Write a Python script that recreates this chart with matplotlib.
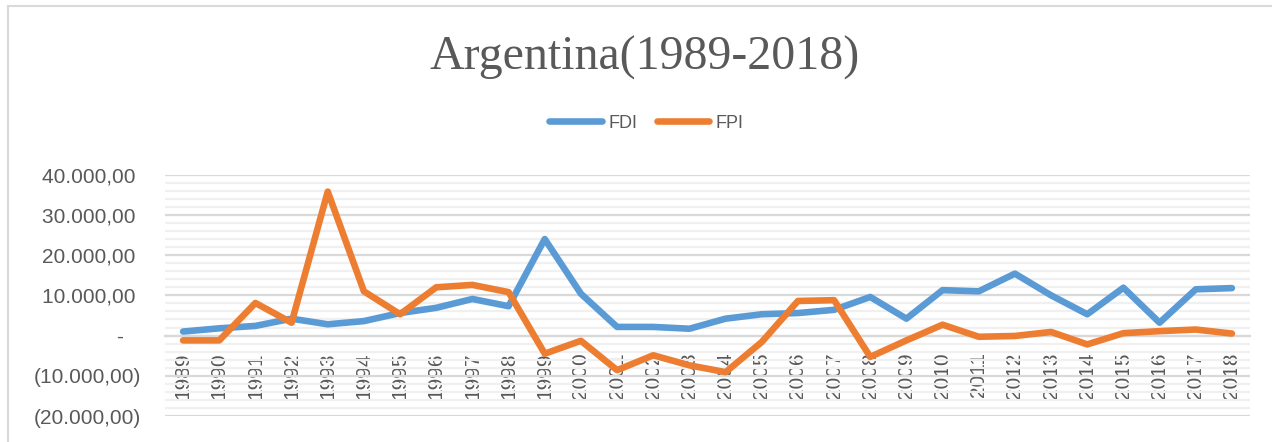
import matplotlib
matplotlib.use("Agg")
import matplotlib.pyplot as plt
from matplotlib.lines import Line2D
from matplotlib.ticker import MultipleLocator, FixedLocator

years = [str(y) for y in range(1989, 2019)]
fdi = [1000, 1800, 2400, 4200, 2800, 3600, 5600, 6900, 9100, 7300,
       24000, 10400, 2150, 2150, 1700, 4200, 5300, 5600, 6400, 9600,
       4200, 11300, 11000, 15400, 10000, 5300, 11900, 3200, 11500, 11800]
fpi = [-1200, -1200, 8100, 3200, 35800, 11000, 5300, 12000, 12600, 10800,
       -4500, -1300, -8600, -4900, -7400, -9100, -1600, 8600, 8800, -5300,
       -1200, 2700, -300, -100, 900, -2200, 600, 1100, 1500, 500]
yticks = [-20000, -10000, 0, 10000, 20000, 30000, 40000]
ytick_labels = ["(20.000,00)", "(10.000,00)", "-   ", "10.000,00 ", "20.000,00 ",
                "30.000,00 ", "40.000,00 "]

W, H = 1272, 442
fig = plt.figure(figsize=(W / 100, H / 100), dpi=100)
fig.patch.set_facecolor("white")

TXT = "#595959"
MAJ = "#d9d9d9"
MIN = "#f0f0f0"
SANS = "Liberation Sans"

ax = fig.add_axes([165 / W, 1 - 416 / H, (1250 - 165) / W, (416 - 174.7) / H])
ax.set_facecolor("white")

# move the category axis to y = 0 first (this resets tick settings)
ax.spines["bottom"].set_position(("data", 0))
ax.spines["bottom"].set_color(MAJ)
ax.spines["bottom"].set_linewidth(1.6)
for s in ["top", "right", "left"]:
    ax.spines[s].set_visible(False)

x = list(range(len(years)))
ax.plot(x, fdi, color="#5B9BD5", lw=4.75, solid_capstyle="round",
        solid_joinstyle="round", label="FDI", zorder=3)
ax.plot(x, fpi, color="#ED7D31", lw=4.75, solid_capstyle="round",
        solid_joinstyle="round", label="FPI", zorder=4)

ax.set_xlim(-0.5, len(years) - 0.5)
ax.set_ylim(-20000, 40000)

ax.yaxis.set_major_locator(FixedLocator(yticks))
ax.yaxis.set_minor_locator(MultipleLocator(2000))
ax.set_yticklabels(ytick_labels, fontfamily=SANS, fontsize=15, color=TXT)
ax.grid(True, axis="y", which="major", color=MAJ, lw=1.6, zorder=1)
ax.grid(True, axis="y", which="minor", color=MIN, lw=1.6, zorder=0)
ax.set_axisbelow(True)
ax.tick_params(axis="y", which="both", length=0, pad=17)

ax.set_xticks(x)
ax.set_xticklabels(years, rotation=90, fontfamily=SANS, fontsize=15, color=TXT,
                   va="top", ha="center")
ax.tick_params(axis="x", which="both", length=0, pad=12)

fig.text(645 / W, 1 - 69.3 / H, "Argentina(1989-2018)", ha="center", va="baseline",
         fontfamily="Liberation Serif", fontsize=34.5, color=TXT)

leg = fig.legend(loc="center", bbox_to_anchor=(646.5 / W, 1 - 123 / H), ncol=2,
                 frameon=False, prop={"family": SANS, "size": 13},
                 handlelength=2.9, handletextpad=0.35, columnspacing=1.1,
                 borderpad=0, borderaxespad=0)
for t in leg.get_texts():
    t.set_color(TXT)
for h in leg.get_lines():
    h.set_solid_capstyle("round")
    h.set_linewidth(4.75)

# chart frame (left and top edges visible)
fig.add_artist(Line2D([8 / W, 8 / W], [0, 1 - 5.5 / H], transform=fig.transFigure,
                      color=MAJ, lw=1.5))
fig.add_artist(Line2D([8 / W, 1], [1 - 5.5 / H, 1 - 5.5 / H], transform=fig.transFigure,
                      color=MAJ, lw=1.5))

fig.savefig("out.png", dpi=100)
